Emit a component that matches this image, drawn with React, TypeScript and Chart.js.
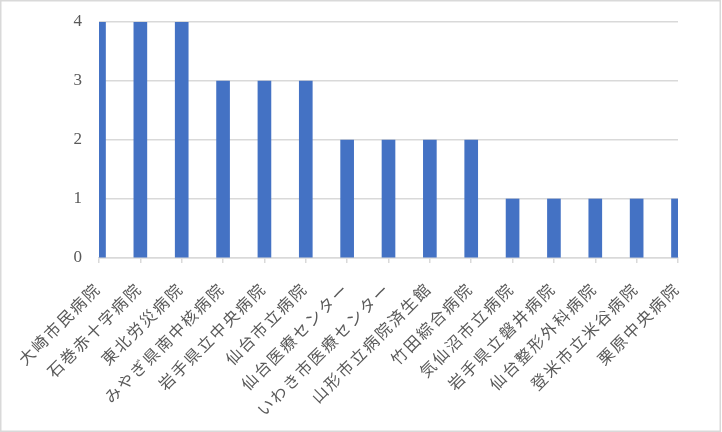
import React, { useEffect, useRef } from "react";
import { Chart, registerables } from "chart.js";

Chart.register(...registerables);

const categories = [
  "大崎市民病院",
  "石巻赤十字病院",
  "東北労災病院",
  "みやぎ県南中核病院",
  "岩手県立中央病院",
  "仙台市立病院",
  "仙台医療センター",
  "いわき市医療センター",
  "山形市立病院済生館",
  "竹田綜合病院",
  "気仙沼市立病院",
  "岩手県立磐井病院",
  "仙台整形外科病院",
  "登米市立米谷病院",
  "栗原中央病院",
];

const counts = [4, 4, 4, 3, 3, 3, 2, 2, 2, 2, 1, 1, 1, 1, 1];

const yTicks = [0, 1, 2, 3, 4];

const FONT = '"Liberation Serif", "Noto Sans CJK JP", serif';

const borderPlugin = {
  id: "outerBorder",
  beforeLayout(chart: any) {
    chart.ctx.letterSpacing = "2px";
  },
  beforeDraw(chart: any) {
    const { ctx, width, height } = chart;
    ctx.letterSpacing = "2px";
    ctx.save();
    ctx.fillStyle = "#ffffff";
    ctx.fillRect(0, 0, width, height);
    ctx.strokeStyle = "#d9d9d9";
    ctx.lineWidth = 1.5;
    ctx.strokeRect(0.75, 0.75, width - 2.5, height - 1.5);
    ctx.restore();
  },
};

export default function App() {
  const ref = useRef<HTMLCanvasElement | null>(null);

  useEffect(() => {
    document.body.style.margin = "0";
    const canvas = ref.current;
    if (!canvas) return;
    const chart = new Chart(canvas, {
      type: "bar",
      data: {
        labels: categories,
        datasets: [
          {
            data: counts,
            backgroundColor: "#4472C4",
            barThickness: 13,
            clip: 0,
          },
        ],
      },
      options: {
        animation: false,
        responsive: false,
        maintainAspectRatio: false,
        layout: { padding: { left: 0, right: 44, top: 22, bottom: 0 } },
        plugins: {
          legend: { display: false },
          tooltip: { enabled: false },
        },
        scales: {
          x: {
            type: "category",
            offset: false,
            grid: {
              offset: false,
              drawOnChartArea: false,
              drawTicks: true,
              tickLength: 5,
              color: "#d9d9d9",
              lineWidth: 1.5,
            },
            border: { display: true, color: "#d9d9d9", width: 1.5 },
            ticks: {
              autoSkip: false,
              maxRotation: 45,
              minRotation: 45,
              padding: 17,
              color: "#595959",
              font: { family: FONT, size: 16 },
            },
            afterFit(scale: any) {
              scale.height = 174;
            },
          },
          y: {
            min: 0,
            max: 4,
            afterBuildTicks(scale: any) {
              scale.ticks = yTicks.map((v) => ({ value: v }));
            },
            grid: {
              drawTicks: false,
              color: "#d9d9d9",
              lineWidth: 1.5,
            },
            border: { display: false },
            ticks: {
              padding: 15,
              color: "#595959",
              font: { family: FONT, size: 17 },
            },
            afterFit(scale: any) {
              scale.width = 99;
              scale.paddingTop = 0;
              scale.paddingBottom = 0;
            },
          },
        },
      },
      plugins: [borderPlugin],
    });
    return () => chart.destroy();
  }, []);

  return (
    <div style={{ width: 722, height: 432 }}>
      <canvas ref={ref} width={722} height={432} style={{ display: "block", width: 722, height: 432 }} />
    </div>
  );
}
